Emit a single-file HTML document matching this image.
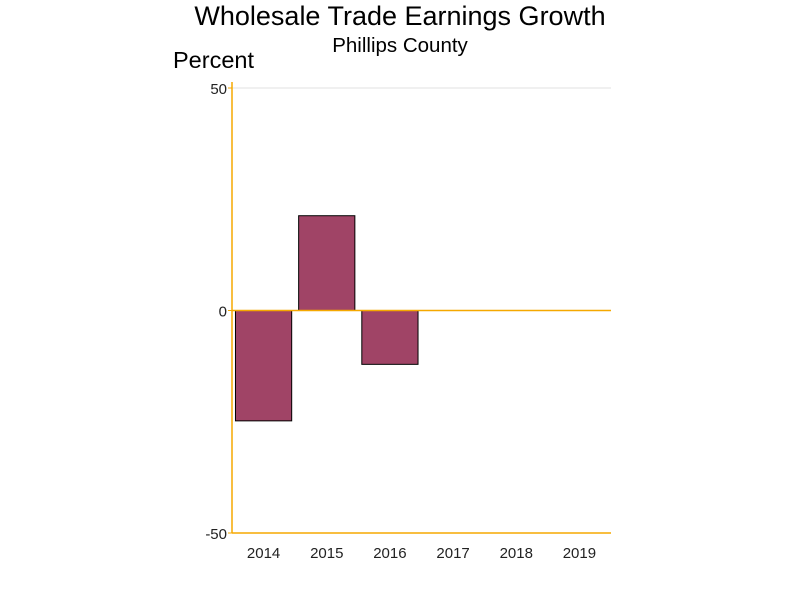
<!DOCTYPE html>
<html><head><meta charset="utf-8"><style>
body{margin:0;background:#fff;}
svg{display:block;font-family:"Liberation Sans",sans-serif;}
</style></head><body>
<svg id="chart" width="800" height="600">
<text x="400" y="25" text-anchor="middle" font-size="27" fill="#000">Wholesale Trade Earnings Growth</text>
<text x="400" y="52" text-anchor="middle" font-size="20.5" fill="#000">Phillips County</text>
<text x="173" y="68" font-size="23.5" fill="#000">Percent</text>
<g id="grid"></g><g id="bars"></g><g id="axes"></g>
</svg>
<script>
const categories = ["2014","2015","2016","2017","2018","2019"];
const values = [-24.8, 21.3, -12.1, null, null, null];
const yTicks = [50, 0, -50];
const yTickLabels = ["50","0","-50"];

const NS="http://www.w3.org/2000/svg";
const pL=232,pR=611,pT=88,pB=533,yMin=-50,yMax=50;
const band=(pR-pL)/categories.length;
function yS(v){return pT+(yMax-v)/(yMax-yMin)*(pB-pT);}
function xS(i){return pL+band*i+band/2;}
function mk(tag,attrs,parent){const e=document.createElementNS(NS,tag);for(const k in attrs)e.setAttribute(k,attrs[k]);parent.appendChild(e);return e;}
const gridG=document.getElementById('grid'),barsG=document.getElementById('bars'),axesG=document.getElementById('axes');

yTicks.forEach((t,i)=>{
  if(t===yMax){const g=mk('line',{x1:pL,x2:pR,y1:yS(t),y2:yS(t),stroke:'#e0e0e0','stroke-width':1},gridG);
  
  }
  const tk=mk('line',{x1:pL-4,x2:pL,y1:yS(t),y2:yS(t),stroke:'#f5a800','stroke-width':1},axesG);
  
  
  const lb=mk('text',{x:pL-5,y:yS(t)+6,'text-anchor':'end','font-size':15,fill:'#222'},axesG);
  lb.textContent=yTickLabels[i];
  
  
});

values.forEach((v,i)=>{
  if(v===null)return;
  const w=band*0.89;
  const y0=yS(0),y1=yS(v);
  const r=mk('rect',{x:xS(i)-w/2,y:Math.min(y0,y1),width:w,height:Math.abs(y1-y0),fill:'#a04466',stroke:'#000','stroke-width':1},barsG);
  
  
});

categories.forEach((c,i)=>{
  const t=mk('text',{x:xS(i),y:pB+25,'text-anchor':'middle','font-size':15,fill:'#222'},axesG);
  t.textContent=c;
  
  
});

const ya=mk('line',{x1:pL,x2:pL,y1:pT-6,y2:pB,stroke:'#f5a800','stroke-width':1.5},axesG);


const xa=mk('line',{x1:pL,x2:pR,y1:pB,y2:pB,stroke:'#f5a800','stroke-width':1.5},axesG);


const zl=mk('line',{x1:pL,x2:pR,y1:yS(0),y2:yS(0),stroke:'#f5a800','stroke-width':1.5},axesG);


</script>
</body></html>
